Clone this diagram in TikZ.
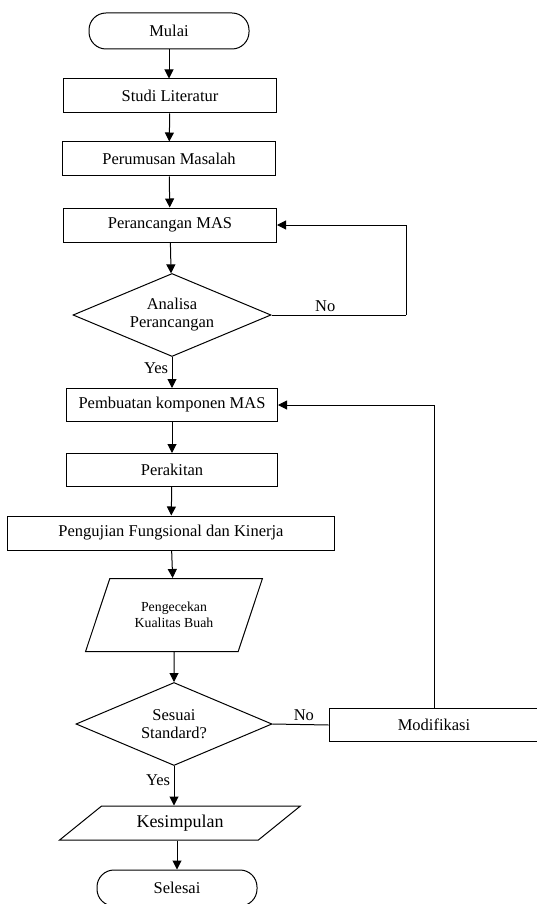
\documentclass[tikz,border=0pt]{standalone}
\usepackage{fontspec}
\setmainfont{Liberation Serif}
\usetikzlibrary{shapes.geometric,arrows.meta}

\begin{document}
\begin{tikzpicture}[x=1pt, y=-1pt, line width=1pt,
  >={Triangle[length=9pt,width=9pt]},
  every node/.style={font=\fontsize{16.5}{18}\selectfont},
  proc/.style={draw, rectangle, minimum width=213pt, minimum height=34pt},
  term/.style={draw, rectangle, rounded corners=17pt, minimum width=160pt, minimum height=36pt},
  dec/.style={draw, diamond, aspect=2.4, inner sep=0pt, minimum width=198pt, minimum height=83pt, align=center},
  io/.style={draw, trapezium, trapezium stretches=true, inner sep=0pt, align=center}]
\useasboundingbox (0,0) rectangle (536,904);

% Start
\node[term] (start) at (169,31) {Mulai};

% Preparation steps
\node[proc] (lit_study) at (170,96) {Studi Literatur};
\node[proc] (problem) at (169,159) {Perumusan Masalah};
\node[proc] (design) at (170,225) {Perancangan MAS};

% Design check
\node[dec] (design_check) at (172,315) {Analisa\\Perancangan};

% Build and test
\node[proc, minimum width=211pt, minimum height=33pt] (build) at (172,405) {Pembuatan komponen MAS};
\node[proc, minimum width=211pt, minimum height=33pt] (assembly) at (172,470) {Perakitan};
\node[proc, minimum width=327pt] (testing) at (171,533) {Pengujian Fungsional dan Kinerja};
\node[io, trapezium left angle=60, trapezium right angle=120, minimum width=177pt, minimum height=73pt,
  font=\fontsize{13.8}{16}\selectfont] (quality) at (174,615) {Pengecekan\\Kualitas Buah};

% Standard check
\node[dec, minimum width=196pt] (standard_check) at (174,724) {Sesuai\\Standard?};
\node[proc, minimum width=210pt, minimum height=33pt] (modify) at (434,725) {Modifikasi};

% End
\node[io, trapezium left angle=35, trapezium right angle=145, minimum width=241pt, minimum height=34pt,
  font=\fontsize{18}{20}\selectfont] (conclusion) at (180,823) {Kesimpulan};
\node[term] (finish) at (177,888) {Selesai};

% Arrows
\draw[->] (start.south) -- (start.south |- lit_study.north);
\draw[->] (lit_study) -- (problem);
\draw[->] (problem) -- (design);
\draw[->] (design) -- (design_check);
\draw[->] (design_check) -- node[left, pos=0.35] {Yes} (build);
\draw[->] (build) -- (assembly);
\draw[->] (assembly) -- (testing);
\draw[->] (testing) -- (quality);
\draw[->] (quality) -- (standard_check);
\draw[->] (standard_check.south) -- node[left, pos=0.35] {Yes} (standard_check.south |- conclusion.north);
\draw[->] (conclusion.south -| finish) -- (finish);

% Loop back
\coordinate (loop_a) at (406,315);
\draw (design_check.east) -- node[above, pos=0.4] {No} (loop_a);
\draw[->] (loop_a) |- (design.east);
\draw (standard_check.east) -- node[above, pos=0.56] {No} (modify.west);
\draw[->] (modify.north) |- (build.east);
\end{tikzpicture}
\end{document}
